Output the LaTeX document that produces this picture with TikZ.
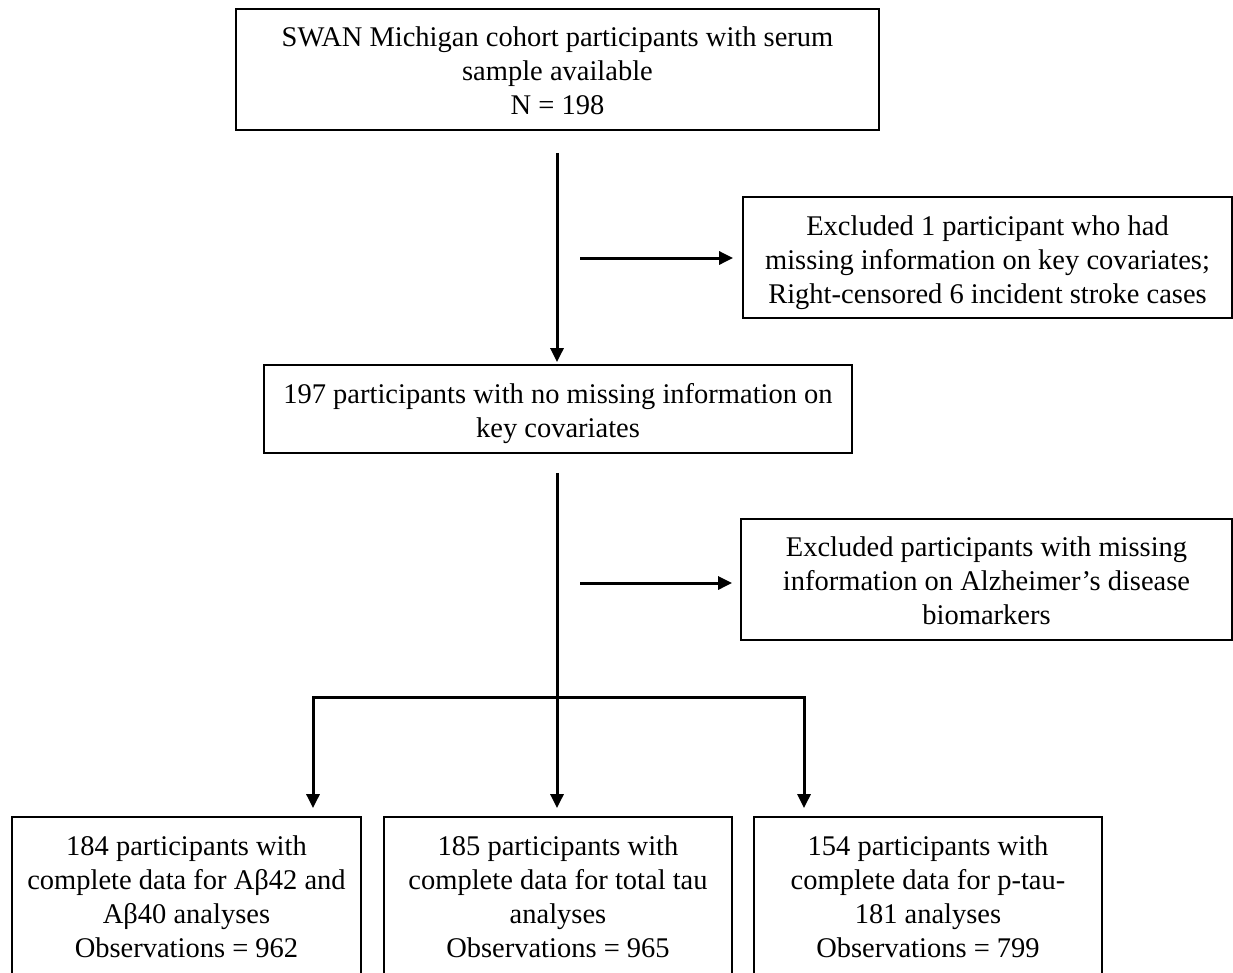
\documentclass[tikz,border=0pt]{standalone}
\usepackage{fontspec}
\setmainfont{Liberation Serif}
\usetikzlibrary{arrows.meta}
\tikzset{
  box/.style={draw=black, line width=1.8pt, inner sep=0pt},
  txt/.style={align=center, inner sep=0pt, font=\fontsize{28.5}{34}\selectfont},
  conn/.style={line width=3pt, draw=black},
  arr/.style={conn, -{Triangle[length=14pt,width=13pt]}},
}
\begin{document}
\begin{tikzpicture}[x=1pt,y=-1pt]
\clip (0,0) rectangle (1233,972);
\useasboundingbox (0,0) rectangle (1233,972);
\fill[white] (0,0) rectangle (1233,972);

\node[box, minimum width=643pt, minimum height=121pt] (top) at (557.5,69.5) {};
\node[txt] (topT) at ([yshift=-1pt]top.center)
  {SWAN Michigan cohort participants with serum\\sample available\\N = 198};
\node[box, minimum width=588pt, minimum height=88pt] (mid) at (558,409) {};
\node[txt] (midT) at ([yshift=-5pt]mid.center)
  {197 participants with no missing information on\\key covariates};
\node[box, minimum width=489pt, minimum height=121pt] (ex1) at (987.5,257.5) {};
\node[txt] (ex1T) at ([yshift=-5pt]ex1.center)
  {Excluded 1 participant who had\\missing information on key covariates;\\Right-censored 6 incident stroke cases};
\node[box, minimum width=491pt, minimum height=121pt] (ex2) at (986.5,579.5) {};
\node[txt] (ex2T) at ([yshift=-1pt]ex2.center)
  {Excluded participants with missing\\information on Alzheimer's disease\\biomarkers};
\node[box, minimum width=349pt, minimum height=166pt] (bA) at (186.5,900) {};
\node[txt] (bAT) at ([yshift=3pt]bA.center)
  {184 participants with\\complete data for Aβ42 and\\Aβ40 analyses\\Observations = 962};
\node[box, minimum width=348pt, minimum height=166pt] (bB) at (558,900) {};
\node[txt] (bBT) at ([yshift=3pt]bB.center)
  {185 participants with\\complete data for total tau\\analyses\\Observations = 965};
\node[box, minimum width=348pt, minimum height=166pt] (bC) at (928,900) {};
\node[txt] (bCT) at ([yshift=3pt]bC.center)
  {154 participants with\\complete data for p-tau-\\181 analyses\\Observations = 799};

\coordinate (a1) at (580,258);
\coordinate (a2) at (580,583);
\coordinate (j) at (557,697);
\coordinate (jL) at (313,697);
\coordinate (jR) at (804,697);

\draw[arr, shorten <=22pt, shorten >=2pt] (top.south -| j) -- (mid.north -| j);
\draw[arr, shorten >=9pt] (a1) -- (a1 -| ex1.west);
\draw[arr, shorten >=8pt] (a2) -- (a2 -| ex2.west);
\draw[conn, shorten <=19pt] (mid.south -| j) -- (j);
\draw[conn, line cap=rect] (jL) -- (jR);
\draw[arr, shorten >=8pt] (jL) -- (jL |- bA.north);
\draw[arr, shorten >=8pt] (j) -- (j |- bB.north);
\draw[arr, shorten >=8pt] (jR) -- (jR |- bC.north);
\end{tikzpicture}
\end{document}
